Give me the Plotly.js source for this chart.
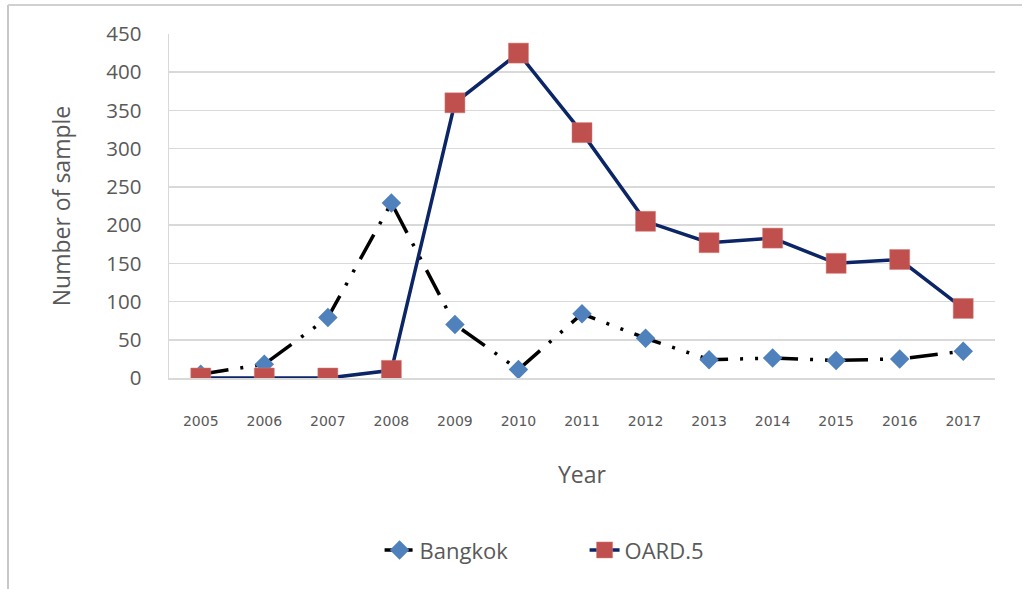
<!DOCTYPE html>
<html>
<head>
<meta charset="utf-8">
<script src="https://cdn.plot.ly/plotly-3.0.1.min.js"></script>
<style>
  html, body { margin: 0; padding: 0; background: #fff; }
  #chart { width: 1022px; height: 589px; }
</style>
</head>
<body>
<div id="chart"></div>
<script>
const years = ['2005','2006','2007','2008','2009','2010','2011','2012','2013','2014','2015','2016','2017'];
const bangkok = [5, 18, 79, 229, 70, 11, 84, 52, 24, 26, 23, 25, 35];
const oard5 = [0, 0, 0, 10, 360, 425, 321, 205, 177, 183, 150, 155, 91];
const yTicks = [0, 50, 100, 150, 200, 250, 300, 350, 400, 450];

const traces = [
  {
    x: years, y: bangkok, name: 'Bangkok', type: 'scatter', mode: 'lines+markers',
    line: { color: '#000000', width: 3.5, dash: '28px,12px,3px,12px,3px,12px' },
    marker: { symbol: 'diamond', size: 15, color: '#4F81BD', line: { width: 0 } }
  },
  {
    x: years, y: oard5, name: 'OARD.5', type: 'scatter', mode: 'lines+markers',
    line: { color: '#0B2566', width: 3.5 },
    marker: { symbol: 'square', size: 20, color: '#C0504D', line: { width: 0.5, color: '#D27B78' } }
  }
];

const W = 1022, H = 589, ML = 169, MR = 27, MT = 34, MB = 211;
const pw = W - ML - MR, ph = H - MT - MB;
// outer picture frame (left and top edges), given in paper fractions
const frameX = (8 - ML) / pw, frameTop = (H - MB - 5) / ph, frameBottom = (H - MB - H - 5) / ph, frameRight = (W + 5 - ML) / pw;

const layout = {
  width: W, height: H,
  margin: { l: ML, r: MR, t: MT, b: MB },
  paper_bgcolor: '#ffffff', plot_bgcolor: '#ffffff',
  showlegend: true,
  legend: {
    orientation: 'h', xref: 'container', yref: 'container',
    x: 0.572, xanchor: 'center', y: 0.066, yanchor: 'middle',
    font: { family: 'Open Sans, sans-serif', size: 22, color: '#595959' },
    entrywidth: 160, entrywidthmode: 'pixels'
  },
  shapes: [
    { type: 'line', xref: 'paper', yref: 'paper', x0: frameX, x1: frameX, y0: frameBottom, y1: frameTop,
      line: { color: '#c8c8c8', width: 2 } },
    { type: 'line', xref: 'paper', yref: 'paper', x0: frameX, x1: frameRight, y0: frameTop, y1: frameTop,
      line: { color: '#d0d0d0', width: 2 } }
  ],
  xaxis: {
    type: 'category', categoryarray: years, range: [-0.5, 12.5],
    showgrid: false, showline: true, linecolor: '#d9d9d9', linewidth: 1.5,
    ticks: '', ticklabelstandoff: 30,
    tickfont: { family: 'DejaVu Sans, sans-serif', size: 14, color: '#595959' },
    title: { text: 'Year', standoff: 38, font: { family: 'Open Sans, sans-serif', size: 23, color: '#595959' } },
    zeroline: false, fixedrange: true
  },
  yaxis: {
    range: [0, 450], tickvals: yTicks, ticktext: yTicks.map(String),
    showgrid: true, gridcolor: '#d9d9d9', gridwidth: 1.5,
    showline: true, linecolor: '#d9d9d9', linewidth: 1.5,
    ticks: '', ticklabelstandoff: 22,
    tickfont: { family: 'Open Sans, sans-serif', size: 20.5, color: '#595959' },
    title: { text: 'Number of sample', standoff: 29, font: { family: 'Open Sans, sans-serif', size: 23, color: '#595959' } },
    zeroline: false, fixedrange: true
  }
};

Plotly.newPlot('chart', traces, layout, { displayModeBar: false, staticPlot: true });
</script>
</body>
</html>
